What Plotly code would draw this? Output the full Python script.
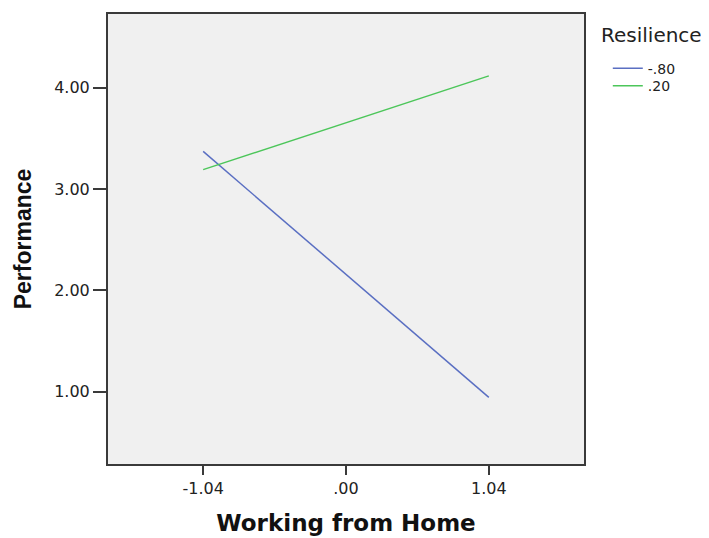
import plotly.graph_objects as go

x_vals = [-1.04, 1.04]
x_ticks = [-1.04, 0.0, 1.04]
x_tick_labels = ["-1.04", ".00", "1.04"]
y_ticks = [1, 2, 3, 4]
y_tick_labels = ["1.00", "2.00", "3.00", "4.00"]
series_names = ["-.80", ".20"]
series_low = [3.37, 0.944]
series_high = [3.19, 4.115]
colors = ["#5A6FC2", "#4CC65A"]
legend_ids = ["legend", "legend2"]

fig = go.Figure()
for name, ys, c, lg in zip(series_names, [series_low, series_high], colors, legend_ids):
    fig.add_trace(go.Scatter(x=x_vals, y=ys, mode="lines", name=name, legend=lg,
                             line=dict(color=c, width=1.5)))

wide = "DejaVu Sans, Verdana, sans-serif"
arial = "Liberation Sans, Arial, sans-serif"
leg_common = dict(xanchor="left", yanchor="top",
                  font=dict(size=14, color="#222", family=wide),
                  bgcolor="rgba(0,0,0,0)")
fig.update_layout(
    width=701, height=530,
    margin=dict(l=100, r=125, t=4, b=74),
    paper_bgcolor="white",
    plot_bgcolor="#F0F0F0",
    font=dict(family=wide, color="#222", size=16),
    legend=dict(x=1.05, y=0.914, **leg_common),
    legend2=dict(x=1.05, y=0.875, **leg_common),
    showlegend=True,
    annotations=[dict(text="Resilience", xref="paper", yref="paper",
                      x=1.0315, y=0.9535, xanchor="left", yanchor="middle",
                      showarrow=False, font=dict(size=20, color="#222", family=wide))],
)
fig.update_xaxes(
    range=[-1.733, 1.733], tickvals=x_ticks, ticktext=x_tick_labels,
    showgrid=False, zeroline=False,
    showline=True, linecolor="#3a3a3a", linewidth=2, mirror=True,
    ticks="outside", ticklen=9, tickwidth=2, tickcolor="#3a3a3a",
    tickfont=dict(size=16, color="#222", family=wide),
    title=dict(text="<b>Working from Home</b>", font=dict(size=23, color="#111", family=wide), standoff=18),
)
fig.update_yaxes(
    range=[0.287, 4.725], tickvals=y_ticks, ticktext=y_tick_labels,
    showgrid=False, zeroline=False,
    showline=True, linecolor="#3a3a3a", linewidth=2, mirror=True,
    ticks="outside", ticklen=13, tickwidth=2, tickcolor="#3a3a3a",
    tickfont=dict(size=16, color="#222", family=wide),
    title=dict(text="<b>Performance</b>", font=dict(size=23, color="#111", family=arial), standoff=16),
)
fig.write_html("out.html")
